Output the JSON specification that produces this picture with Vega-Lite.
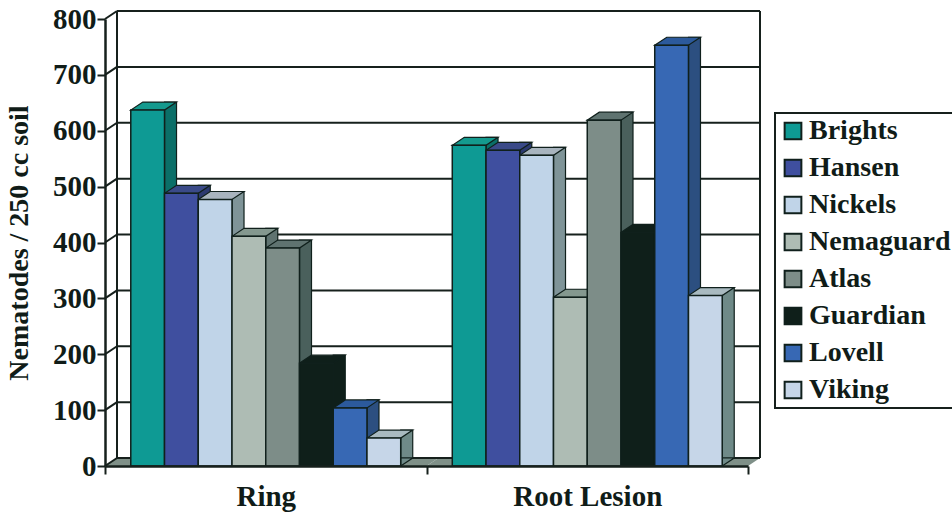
{
"$schema":"https://vega.github.io/schema/vega-lite/v6.json",
"width":643,"height":447,
"autosize":{"type":"none"},
"padding":{"left":105,"top":19,"right":204,"bottom":48},
"background":"#ffffff",
"config":{"view":{"stroke":null},"font":"Liberation Serif","legend":{"strokeWidth":2}},
"datasets":{
"counts":[
{"nematode":"Ring","rootstock":"Brights","count":637},
{"nematode":"Ring","rootstock":"Hansen","count":488},
{"nematode":"Ring","rootstock":"Nickels","count":477},
{"nematode":"Ring","rootstock":"Nemaguard","count":411},
{"nematode":"Ring","rootstock":"Atlas","count":390},
{"nematode":"Ring","rootstock":"Guardian","count":184},
{"nematode":"Ring","rootstock":"Lovell","count":104},
{"nematode":"Ring","rootstock":"Viking","count":50},
{"nematode":"Root Lesion","rootstock":"Brights","count":574},
{"nematode":"Root Lesion","rootstock":"Hansen","count":565},
{"nematode":"Root Lesion","rootstock":"Nickels","count":556},
{"nematode":"Root Lesion","rootstock":"Nemaguard","count":302},
{"nematode":"Root Lesion","rootstock":"Atlas","count":619},
{"nematode":"Root Lesion","rootstock":"Guardian","count":418},
{"nematode":"Root Lesion","rootstock":"Lovell","count":753},
{"nematode":"Root Lesion","rootstock":"Viking","count":305}
],
"gridValues":[{"v":0},{"v":100},{"v":200},{"v":300},{"v":400},{"v":500},{"v":600},{"v":700},{"v":800}],
"groups":[{"nematode":"Ring"},{"nematode":"Root Lesion"}]
},
"layer":[
{"description":"Chart floor",
 "data":{"name":"groups"},
 "mark":{"type":"point","filled":true,"opacity":1,"fill":"#7f9088","strokeWidth":0,"size":4,"shape":"M-160.75 0L160.75 0L172.75 -8L-148.75 -8Z"},
 "encoding":{
  "x":{"field":"nematode","type":"nominal","axis":null,"scale":{"type":"band","domain":["Ring","Root Lesion"],"paddingInner":0,"paddingOuter":0}},
  "y":{"datum":0,"type":"quantitative","axis":null,"scale":{"domain":[0,800],"nice":false}}
 }},
{"description":"Back wall gridlines",
 "data":{"name":"gridValues"},
 "mark":{"type":"rule","stroke":"#16201c","strokeWidth":2,"xOffset":12,"x2Offset":12,"yOffset":-8,"y2Offset":-8},
 "encoding":{
  "x":{"datum":0,"type":"quantitative","axis":null,"scale":{"domain":[0,1]}},
  "x2":{"datum":1},
  "y":{"field":"v","type":"quantitative","axis":null,"scale":{"domain":[0,800],"nice":false}}
 }},
{"description":"Side wall slants at each gridline",
 "data":{"name":"gridValues"},
 "mark":{"type":"point","filled":false,"opacity":1,"stroke":"#16201c","strokeWidth":2,"size":4,"shape":"M0 0L12 -8"},
 "encoding":{
  "x":{"datum":0,"type":"quantitative","axis":null,"scale":{"domain":[0,1]}},
  "y":{"field":"v","type":"quantitative","axis":null,"scale":{"domain":[0,800],"nice":false}}
 }},
{"description":"Back wall left edge",
 "data":{"values":[{"edge":0}]},
 "mark":{"type":"rule","stroke":"#16201c","strokeWidth":2,"xOffset":12,"yOffset":-8,"y2Offset":-8},
 "encoding":{
  "x":{"field":"edge","type":"quantitative","axis":null,"scale":{"domain":[0,1]}},
  "y":{"datum":0,"type":"quantitative","axis":null,"scale":{"domain":[0,800],"nice":false}},
  "y2":{"datum":800}
 }},
{"description":"Back wall right edge",
 "data":{"values":[{"edge":1}]},
 "mark":{"type":"rule","stroke":"#16201c","strokeWidth":2,"xOffset":12,"yOffset":-8,"y2Offset":-8},
 "encoding":{
  "x":{"field":"edge","type":"quantitative","axis":null,"scale":{"domain":[0,1]}},
  "y":{"datum":0,"type":"quantitative","axis":null,"scale":{"domain":[0,800],"nice":false}},
  "y2":{"datum":800}
 }},
{"description":"Right side faces of the bars",
 "data":{"name":"counts"},
 "mark":{"type":"bar","width":12,"yOffset":-8,"y2Offset":-8,"stroke":"#10201c","strokeWidth":1.2},
 "encoding":{
  "x":{"field":"nematode","type":"nominal","axis":null,"scale":{"type":"band","domain":["Ring","Root Lesion"],"paddingInner":0,"paddingOuter":0}},
  "xOffset":{"field":"rootstock","type":"nominal","scale":{"domain":["Brights","Hansen","Nickels","Nemaguard","Atlas","Guardian","Lovell","Viking"],"paddingInner":0,"paddingOuter":0.764,"align":0.9437}},
  "y":{"field":"count","type":"quantitative","axis":null,"scale":{"domain":[0,800],"nice":false}},
  "color":{"field":"rootstock","type":"nominal","legend":null,"scale":{"domain":["Brights","Hansen","Nickels","Nemaguard","Atlas","Guardian","Lovell","Viking"],"range":["#0b6f68","#2c3a70","#7f9498","#5f7370","#4a605c","#0f1f1a","#2c4f80","#6f8a88"]}}
 }},
{"description":"Slanted foot of each side face, resting on the floor",
 "data":{"name":"counts"},
 "mark":{"type":"point","filled":true,"opacity":1,"stroke":"#10201c","strokeWidth":1.2,"size":4,"shape":"M16.85 0L28.85 -8L16.85 -8Z"},
 "encoding":{
  "x":{"field":"nematode","type":"nominal","axis":null,"scale":{"type":"band","domain":["Ring","Root Lesion"],"paddingInner":0,"paddingOuter":0}},
  "xOffset":{"field":"rootstock","type":"nominal","scale":{"type":"band","domain":["Brights","Hansen","Nickels","Nemaguard","Atlas","Guardian","Lovell","Viking"],"paddingInner":0,"paddingOuter":0.764}},
  "y":{"datum":0,"type":"quantitative","axis":null,"scale":{"domain":[0,800],"nice":false}},
  "color":{"field":"rootstock","type":"nominal","legend":null,"scale":{"domain":["Brights","Hansen","Nickels","Nemaguard","Atlas","Guardian","Lovell","Viking"],"range":["#0b6f68","#2c3a70","#7f9498","#5f7370","#4a605c","#0f1f1a","#2c4f80","#6f8a88"]}}
 }},
{"description":"Top faces of the bars",
 "data":{"name":"counts"},
 "mark":{"type":"point","filled":true,"opacity":1,"stroke":"#10201c","strokeWidth":1.2,"size":4,"shape":"M-16.85 0L16.85 0L28.85 -8L-4.85 -8Z"},
 "encoding":{
  "x":{"field":"nematode","type":"nominal","axis":null,"scale":{"type":"band","domain":["Ring","Root Lesion"],"paddingInner":0,"paddingOuter":0}},
  "xOffset":{"field":"rootstock","type":"nominal","scale":{"type":"band","domain":["Brights","Hansen","Nickels","Nemaguard","Atlas","Guardian","Lovell","Viking"],"paddingInner":0,"paddingOuter":0.764}},
  "y":{"field":"count","type":"quantitative","axis":null,"scale":{"domain":[0,800],"nice":false}},
  "color":{"field":"rootstock","type":"nominal","legend":null,"scale":{"domain":["Brights","Hansen","Nickels","Nemaguard","Atlas","Guardian","Lovell","Viking"],"range":["#149a8e","#3a4a88","#a8b4be","#84988f","#5f7370","#0f1f1a","#2c5a9c","#a9bac0"]}}
 }},
{"description":"Front faces of the bars",
 "data":{"name":"counts"},
 "mark":{"type":"bar","stroke":"#10201c","strokeWidth":1.5},
 "encoding":{
  "x":{"field":"nematode","type":"nominal","title":null,"scale":{"type":"band","domain":["Ring","Root Lesion"],"paddingInner":0,"paddingOuter":0},
   "axis":{"labelAngle":0,"labelFont":"Liberation Serif","labelFontWeight":"bold","labelFontSize":29,"labelColor":"#101c18","labelPadding":8,"tickBand":"extent","tickSize":8,"tickColor":"#16201c","tickWidth":2,"domainColor":"#16201c","domainWidth":2.5,"zindex":1}},
  "xOffset":{"field":"rootstock","type":"nominal","scale":{"domain":["Brights","Hansen","Nickels","Nemaguard","Atlas","Guardian","Lovell","Viking"],"paddingInner":0,"paddingOuter":0.764}},
  "y":{"field":"count","type":"quantitative","title":"Nematodes / 250 cc soil","scale":{"domain":[0,800],"nice":false},
   "axis":{"values":[0,100,200,300,400,500,600,700,800],"grid":false,"labelFont":"Liberation Serif","labelFontWeight":"bold","labelFontSize":29,"labelColor":"#101c18","labelPadding":1,"tickSize":8,"tickColor":"#16201c","tickWidth":2,"domainColor":"#16201c","domainWidth":2.5,"titleFont":"Liberation Serif","titleFontWeight":"bold","titleFontSize":28,"titleColor":"#101c18","titlePadding":19}},
  "color":{"field":"rootstock","type":"nominal","scale":{"domain":["Brights","Hansen","Nickels","Nemaguard","Atlas","Guardian","Lovell","Viking"],"range":["#0e9a94","#3f4f9f","#c0d4e8","#aebcb4","#7d8d88","#0f1f1a","#3768b4","#c6d6e8"]},
   "legend":{"title":null,"orient":"none","legendX":670,"legendY":94,"symbolType":"square","symbolSize":280,"symbolStrokeColor":"#10201c","symbolStrokeWidth":2,"symbolOpacity":1,"labelFont":"Liberation Serif","labelFontWeight":"bold","labelFontSize":28,"labelColor":"#101c18","labelOffset":2,"labelLimit":200,"rowPadding":9,"padding":4,"strokeColor":"#16201c","fillColor":"#ffffff"}}
 }}
],
"resolve":{"scale":{"x":"independent","xOffset":"independent","color":"independent"},"axis":{"y":"independent"}}
}
